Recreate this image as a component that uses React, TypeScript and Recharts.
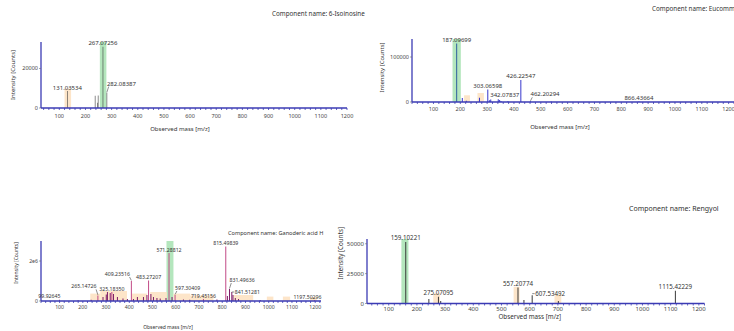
import React from 'react'
import { ComposedChart, Bar, Cell, XAxis, YAxis, ReferenceArea, LabelList } from 'recharts'

const FONT = '"Noto Sans", "Open Sans", sans-serif'
const AXIS_BLUE = '#3b3bb4'
const MATCH_GREEN = '#b4e6bd'
const FRAG_ORANGE = '#fde1c0'

const massTicks = [100, 200, 300, 400, 500, 600, 700, 800, 900, 1000, 1100, 1200]

// 6-Isoinosine
const isoMz = [131.03534, 237.1, 246.1, 248.6, 267.07256, 282.08387]
const isoIntensity = [8600, 6200, 2600, 6300, 31000, 7800]
const isoLabels = ['131.03534', '', '', '', '267.07256', '282.08387']
const isoBandLo = [120, 255]
const isoBandHi = [145, 280]
const isoBandTop = [9900, null]
const isoYTicks = [0, 20000]

// Eucommiol
const euMz = [187.09699, 208.1, 223.1, 272.1, 303.06598, 309.1, 314.1, 342.07837, 347.2, 352.2, 378.1, 426.22547, 462.20294, 539.3, 866.43664]
const euIntensity = [130000, 9000, 3000, 9500, 27900, 4000, 5500, 6000, 4500, 2500, 1500, 48900, 1500, 1000, 1200]
const euLabels = ['187.09699', '', '', '', '303.06598', '', '', '342.07837', '', '', '', '426.22547', '462.20294', '', '866.43664']
const euBandLo = [171, 214, 264]
const euBandHi = [202, 236, 288]
const euBandTop = [null, 15000, 20000]
const euYTicks = [0, 100000]

// Ganoderic acid H
const gaMz = [99.92645, 180.1, 236.1, 265.14726, 287.2, 301.2, 306.2, 318.2, 325.1835, 332.2, 349.2, 373.2, 392.2, 409.23516, 418.2, 435.2, 461.3, 476.3, 483.27207, 493.3, 504.3, 519.3, 533.3, 558.3, 571.28812, 584.3, 597.30409, 633.3, 660.4, 719.45156, 777.4, 815.49839, 822.5, 831.49636, 841.51281, 846.5, 856.5, 870.5, 963.5, 1197.50296]
const gaIntensity = [60000, 40000, 60000, 280000, 200000, 320000, 450000, 400000, 450000, 350000, 200000, 120000, 100000, 1000000, 100000, 200000, 200000, 300000, 1030000, 350000, 200000, 150000, 120000, 150000, 2400000, 200000, 300000, 80000, 60000, 100000, 80000, 2730000, 250000, 600000, 450000, 300000, 150000, 100000, 50000, 40000]
const gaLabels = ['99.92645', '', '', '265.14726', '', '', '', '', '325.18350', '', '', '', '', '409.23516', '', '', '', '', '483.27207', '', '', '', '', '', '571.28812', '', '597.30409', '', '', '719.45156', '', '815.49839', '', '831.49636', '841.51281', '', '', '', '', '1197.50296']
const gaBandLo = [560, 232, 275, 411, 490, 590, 662, 848, 992, 1061, 1178]
const gaBandHi = [590, 275, 390, 476, 562, 662, 762, 933, 1020, 1092, 1207]
const gaBandTop = [null, 370000, 500000, 370000, 450000, 370000, 280000, 300000, 220000, 220000, 200000]
const gaYTicks = [0, 2000000]

// Rengyol
const renMz = [159.10221, 241.1, 275.07095, 283.1, 557.20774, 578.3, 607.53492, 700.4, 1115.42229]
const renIntensity = [51500, 3700, 5700, 2000, 13500, 3000, 7000, 2000, 10700]
const renLabels = ['159.10221', '', '275.07095', '', '557.20774', '', '607.53492', '', '1115.42229']
const renBandLo = [145, 258, 543, 688]
const renBandHi = [170, 282, 564, 712]
const renBandTop = [null, 8500, 14000, 7700]
const renYTicks = [0, 25000, 50000]

type Placement = { mode: 'top' | 'slash' | 'backslash' | 'dash' | 'left'; dx?: number; dy?: number }

interface PanelConfig {
  left: number
  top: number
  width: number
  height: number
  margin: { top: number; right: number; bottom: number; left: number }
  yWidth: number
  xHeight: number
  xDomain: [number, number]
  yDomain: [number, number]
  yTicks: number[]
  yFormat?: (v: number) => string
  mz: number[]
  intensity: number[]
  labels: string[]
  bandLo: number[]
  bandHi: number[]
  bandTop: (number | null)[]
  peakColor: (label: string) => string
  placements: Record<string, Placement>
  tickFont: number
  peakFont: number
  axisTitleFont: number
  xTickMargin: number
  xTitle: { dx: number; dy: number }
  yTitle: { dist: number; dy: number }
  title: string
  titleX: number
  titleY: number
  titleFont: number
}

function peakLabel(placements: Record<string, Placement>, fontSize: number) {
  return (p: any) => {
    const value = p.value
    if (!value) return null
    const cx = Number(p.x) + Number(p.width) / 2
    const top = Number(p.y)
    const pl = placements[value] ?? { mode: 'top' }
    const dx = pl.dx ?? 0
    const dy = pl.dy ?? 0
    const txt = { fontSize, fill: '#333', fontFamily: FONT }
    if (pl.mode === 'slash') {
      return (
        <g>
          <line x1={cx} y1={top - 0.5} x2={cx + 1.8} y2={top - 4 + dy} stroke="#444" strokeWidth={0.6} />
          <text x={cx + dx} y={top - 5 + dy} textAnchor="start" {...txt}>{value}</text>
        </g>
      )
    }
    if (pl.mode === 'backslash') {
      return (
        <g>
          <line x1={cx} y1={top - 0.5} x2={cx - 1.8} y2={top - 4 + dy} stroke="#444" strokeWidth={0.6} />
          <text x={cx - 1.5 + dx} y={top - 5 + dy} textAnchor="end" {...txt}>{value}</text>
        </g>
      )
    }
    if (pl.mode === 'dash') {
      return (
        <g>
          <line x1={cx} y1={top + dy} x2={cx + 2.5} y2={top + dy} stroke="#444" strokeWidth={0.6} />
          <text x={cx + 3 + dx} y={top + dy} dominantBaseline="central" textAnchor="start" {...txt}>{value}</text>
        </g>
      )
    }
    if (pl.mode === 'left') {
      return <text x={cx + 1 + dx} y={top - 1.5 + dy} textAnchor="end" {...txt}>{value}</text>
    }
    return <text x={cx + dx} y={top - 1.5 + dy} textAnchor="middle" {...txt}>{value}</text>
  }
}

function Spectrum({ cfg }: { cfg: PanelConfig }) {
  const data = cfg.mz.map((mz, i) => ({ mz, intensity: cfg.intensity[i], label: cfg.labels[i] }))
  const xTicks: number[] = []
  for (let v = Math.ceil(cfg.xDomain[0] / 20) * 20; v <= cfg.xDomain[1]; v += 20) xTicks.push(v)

  const xTitle = (p: any) => {
    const vb = p.viewBox
    return (
      <text
        x={vb.x + vb.width / 2 + cfg.xTitle.dx}
        y={vb.y + cfg.xTitle.dy}
        textAnchor="middle"
        dominantBaseline="central"
        fontSize={cfg.axisTitleFont}
        fill="#333"
        fontFamily={FONT}
      >
        Observed mass [m/z]
      </text>
    )
  }
  const yTitle = (p: any) => {
    const vb = p.viewBox
    const tx = vb.x + vb.width - cfg.yTitle.dist
    const ty = vb.y + vb.height / 2 + cfg.yTitle.dy
    return (
      <text
        x={tx}
        y={ty}
        transform={`rotate(-90 ${tx} ${ty})`}
        textAnchor="middle"
        dominantBaseline="central"
        fontSize={cfg.axisTitleFont}
        fill="#333"
        fontFamily={FONT}
      >
        Intensity [Counts]
      </text>
    )
  }

  return (
    <>
      <div style={{ position: 'absolute', left: cfg.left, top: cfg.top }}>
        <ComposedChart width={cfg.width} height={cfg.height} data={data} margin={cfg.margin}>
          <XAxis
            type="number"
            dataKey="mz"
            domain={cfg.xDomain}
            allowDataOverflow
            ticks={xTicks}
            interval={0}
            tickFormatter={(v: number) => (massTicks.includes(v) ? String(v) : '')}
            tick={{ fontSize: cfg.tickFont, fill: '#444', fontFamily: FONT }}
            tickSize={2}
            tickMargin={cfg.xTickMargin}
            tickLine={{ stroke: AXIS_BLUE, strokeWidth: 0.8 }}
            axisLine={{ stroke: AXIS_BLUE, strokeWidth: 1.3 }}
            height={cfg.xHeight}
            label={xTitle}
          />
          <YAxis
            type="number"
            domain={cfg.yDomain}
            allowDataOverflow
            ticks={cfg.yTicks}
            interval={0}
            tickFormatter={cfg.yFormat ?? ((v: number) => String(v))}
            tick={{ fontSize: cfg.tickFont, fill: '#444', fontFamily: FONT }}
            tickSize={2}
            tickMargin={1}
            tickLine={{ stroke: '#666', strokeWidth: 0.6 }}
            axisLine={{ stroke: AXIS_BLUE, strokeWidth: 1.3 }}
            width={cfg.yWidth}
            label={yTitle}
          />
          {cfg.bandLo.map((lo, i) => (
            <ReferenceArea
              key={`band-${i}`}
              x1={lo}
              x2={cfg.bandHi[i]}
              y1={0}
              y2={cfg.bandTop[i] ?? cfg.yDomain[1]}
              fill={cfg.bandTop[i] === null ? MATCH_GREEN : FRAG_ORANGE}
              fillOpacity={cfg.bandTop[i] === null ? 1 : 0.85}
              stroke="none"
            />
          ))}
          <Bar dataKey="intensity" barSize={1} isAnimationActive={false}>
            {data.map((d, i) => (
              <Cell key={`c-${i}`} fill={cfg.peakColor(d.label)} />
            ))}
            <LabelList dataKey="label" content={peakLabel(cfg.placements, cfg.peakFont)} />
          </Bar>
        </ComposedChart>
      </div>
      <div
        style={{
          position: 'absolute',
          left: cfg.titleX,
          top: cfg.titleY - cfg.titleFont / 2 - 1,
          fontSize: cfg.titleFont,
          lineHeight: `${cfg.titleFont + 2}px`,
          fontFamily: FONT,
          color: '#333',
          whiteSpace: 'nowrap',
        }}
      >
        {cfg.title}
      </div>
    </>
  )
}

const panels: PanelConfig[] = [
  {
    left: 0, top: 0, width: 367, height: 140,
    margin: { top: 42, right: 20, bottom: 6, left: 0 },
    yWidth: 41, xHeight: 26,
    xDomain: [30, 1200], yDomain: [0, 33400], yTicks: isoYTicks,
    mz: isoMz, intensity: isoIntensity, labels: isoLabels,
    bandLo: isoBandLo, bandHi: isoBandHi, bandTop: isoBandTop,
    peakColor: () => '#3d3d3d',
    placements: { '282.08387': { mode: 'slash', dy: -2 } },
    tickFont: 5.5, peakFont: 6, axisTitleFont: 6, xTickMargin: 4,
    xTitle: { dx: -14, dy: 21 }, yTitle: { dist: 28, dy: 0 },
    title: 'Component name: 6-Isoinosine', titleX: 272, titleY: 14, titleFont: 6.3,
  },
  {
    left: 367, top: 0, width: 380, height: 140,
    margin: { top: 39, right: 13, bottom: 8, left: 0 },
    yWidth: 45, xHeight: 30,
    xDomain: [20, 1220], yDomain: [0, 140000], yTicks: euYTicks,
    mz: euMz, intensity: euIntensity, labels: euLabels,
    bandLo: euBandLo, bandHi: euBandHi, bandTop: euBandTop,
    peakColor: (l) => (l === '187.09699' ? '#2f5f9f' : '#3636cc'),
    placements: {
      '462.20294': { mode: 'slash' },
      '342.07837': { mode: 'top', dx: 6.5, dy: -1 },
    },
    tickFont: 5.5, peakFont: 6, axisTitleFont: 6, xTickMargin: 3,
    xTitle: { dx: -13, dy: 24.7 }, yTitle: { dist: 30, dy: -3 },
    title: 'Component name: Eucommiol', titleX: 652, titleY: 9.5, titleFont: 6.3,
  },
  {
    left: 0, top: 190, width: 367, height: 141,
    margin: { top: 51, right: 46, bottom: 4, left: 0 },
    yWidth: 41, xHeight: 26,
    xDomain: [20, 1225], yDomain: [0, 3000000], yTicks: gaYTicks,
    yFormat: (v: number) => (v === 0 ? '0' : `${v / 1000000}e6`),
    mz: gaMz, intensity: gaIntensity, labels: gaLabels,
    bandLo: gaBandLo, bandHi: gaBandHi, bandTop: gaBandTop,
    peakColor: (l) => (l === '' || l === '831.49636' || l === '841.51281' ? '#7d1a66' : '#c24a86'),
    placements: {
      '99.92645': { mode: 'left' },
      '265.14726': { mode: 'backslash', dy: -2 },
      '409.23516': { mode: 'backslash' },
      '597.30409': { mode: 'slash' },
      '831.49636': { mode: 'slash', dy: -2 },
      '841.51281': { mode: 'dash' },
      '1197.50296': { mode: 'left', dx: 6 },
    },
    tickFont: 5.2, peakFont: 5.2, axisTitleFont: 5, xTickMargin: 2,
    xTitle: { dx: -13, dy: 26 }, yTitle: { dist: 25, dy: -8 },
    title: 'Component name: Ganoderic acid H', titleX: 228, titleY: 234, titleFont: 5.6,
  },
  {
    left: 330, top: 190, width: 404, height: 141,
    margin: { top: 49, right: 29.5, bottom: 5.5, left: 0 },
    yWidth: 37, xHeight: 22,
    xDomain: [23, 1220], yDomain: [0, 54000], yTicks: renYTicks,
    mz: renMz, intensity: renIntensity, labels: renLabels,
    bandLo: renBandLo, bandHi: renBandHi, bandTop: renBandTop,
    peakColor: () => '#3a3a3a',
    placements: { '607.53492': { mode: 'dash', dy: -1.5 } },
    tickFont: 6, peakFont: 6.2, axisTitleFont: 6.3, xTickMargin: 1,
    xTitle: { dx: -6, dy: 13.2 }, yTitle: { dist: 27, dy: -18 },
    title: 'Component name: Rengyol', titleX: 629, titleY: 208.5, titleFont: 7,
  },
]

export default function App() {
  return (
    <div
      style={{
        position: 'absolute',
        left: 0,
        top: 0,
        width: 734,
        height: 331,
        overflow: 'hidden',
        background: '#fff',
      }}
    >
      {panels.map((cfg, i) => (
        <Spectrum key={i} cfg={cfg} />
      ))}
    </div>
  )
}
